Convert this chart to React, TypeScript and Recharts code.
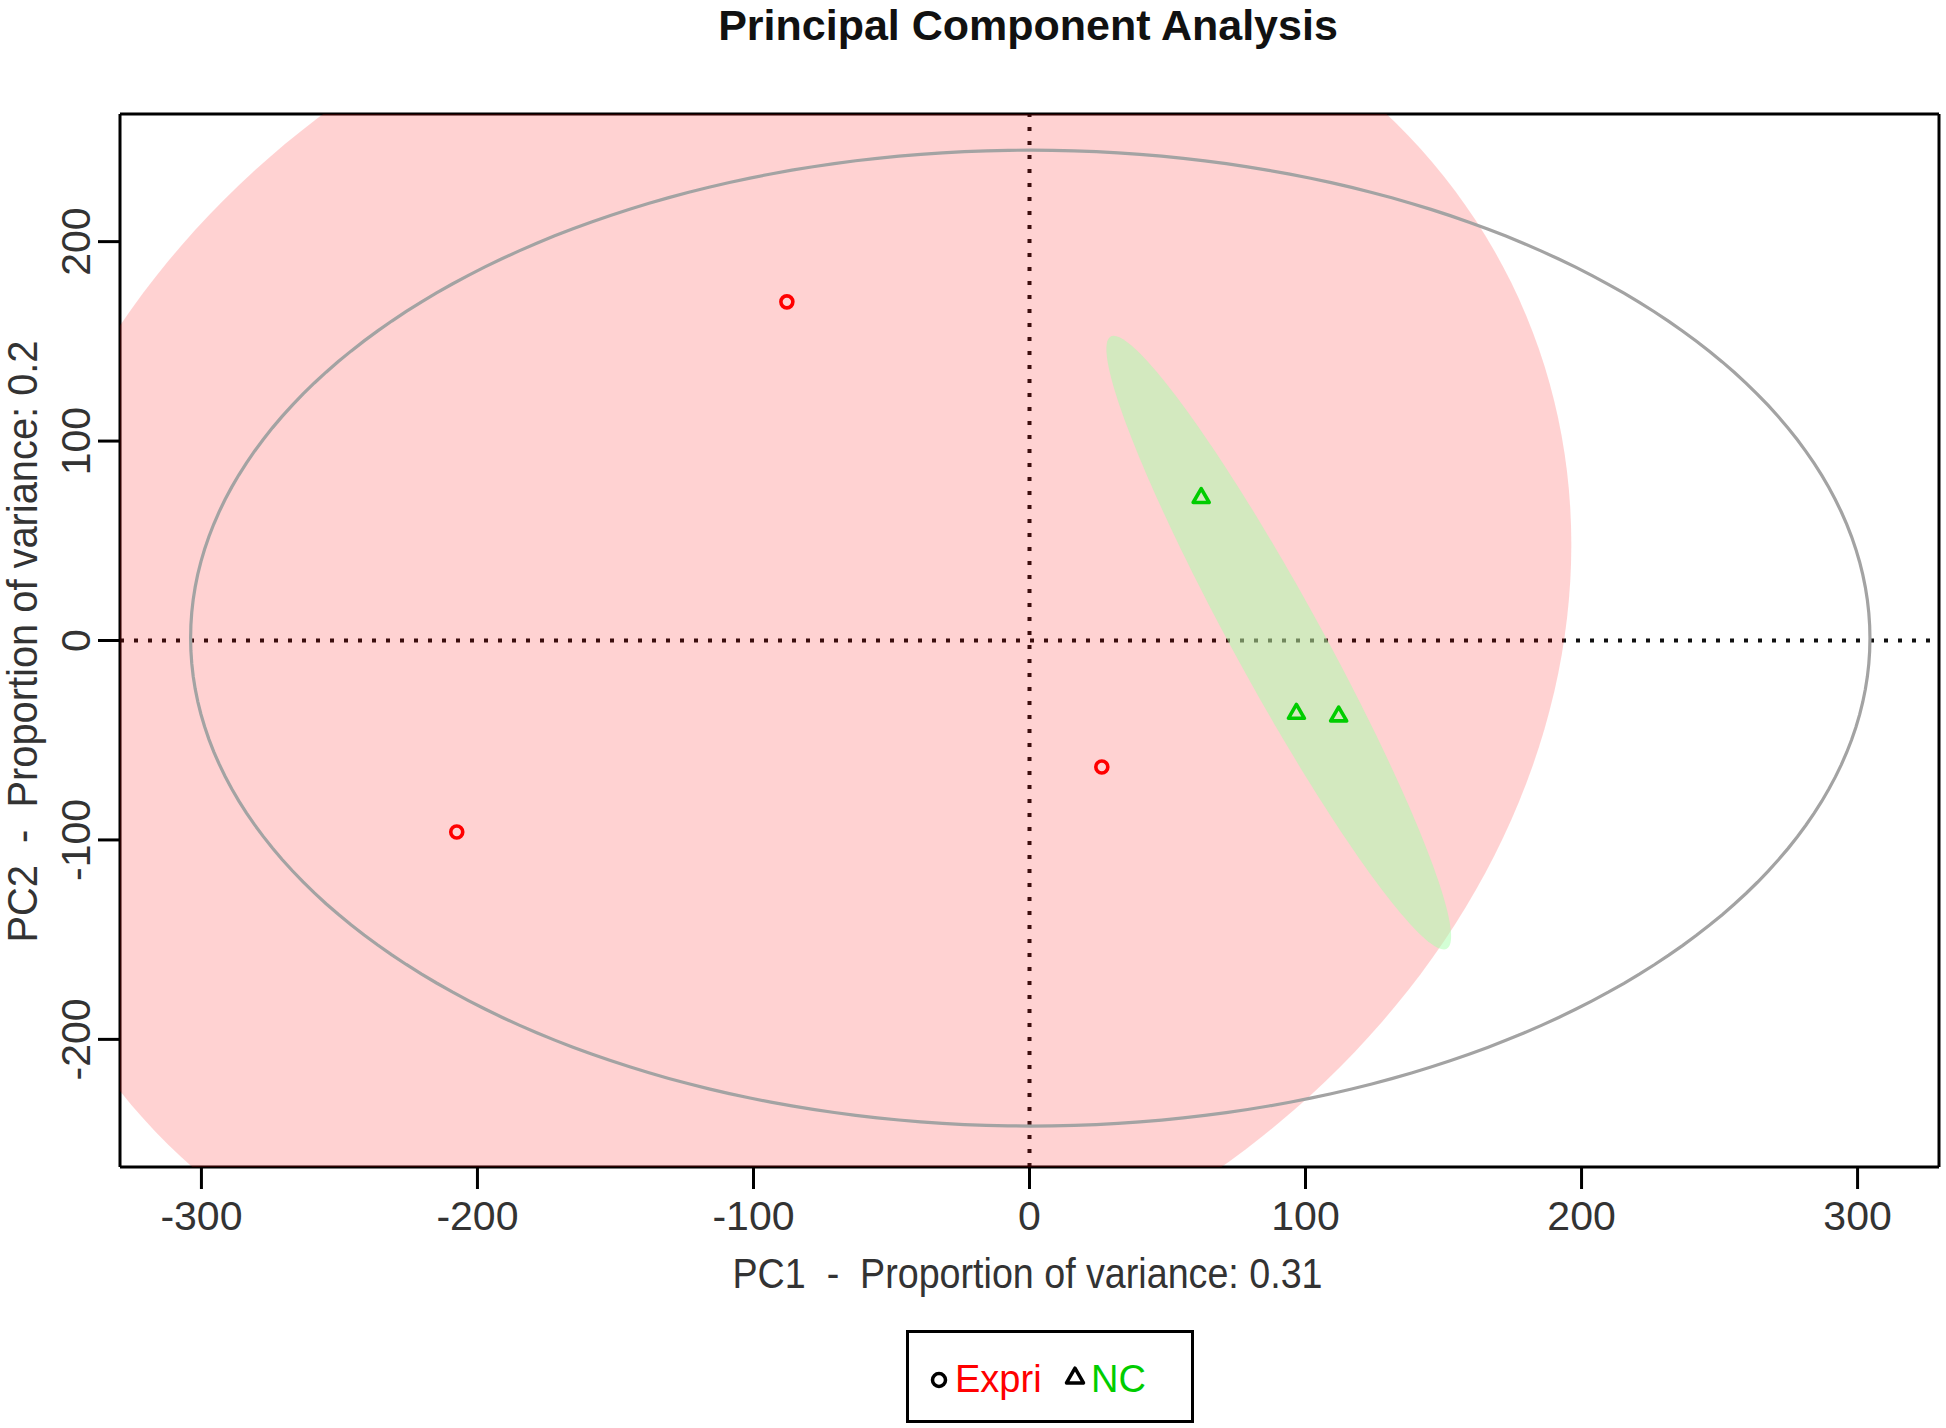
import React from 'react';
import { ScatterChart, Scatter, XAxis, YAxis, ReferenceLine, Legend } from 'recharts';

// ---- data (PCA scores) ----
const groups = ['Expri', 'NC'];
const exprPC1 = [-207.5, -87.9, 26.2];
const exprPC2 = [-96.0, 169.8, -63.4];
const ncPC1 = [62.2, 96.7, 112.0];
const ncPC2 = [71.5, -36.7, -38.0];
const xTicks = [-300, -200, -100, 0, 100, 200, 300];
const yTicks = [-200, -100, 0, 100, 200];
const varPC1 = 0.31;
const varPC2 = 0.2;
const chiSq95 = 5.991; // qchisq(0.95, df = 2)

// ---- styling / layout ----
const W = 1946;
const H = 1428;
const FONT = "'Liberation Sans', Arial, Helvetica, sans-serif";
const groupColors = ['#FF0000', '#00CD00'];
const xDomain: [number, number] = [-329.5, 329.5];
const yDomain: [number, number] = [-264, 264];

type Pt = { x: number; y: number };

const toPoints = (xs: number[], ys: number[]): Pt[] => xs.map((x, i) => ({ x, y: ys[i] }));

function dataEllipse(xs: number[], ys: number[], level: number, n = 240): Pt[] {
  const m = xs.length;
  const mx = xs.reduce((a, b) => a + b, 0) / m;
  const my = ys.reduce((a, b) => a + b, 0) / m;
  let sxx = 0, syy = 0, sxy = 0;
  for (let i = 0; i < m; i++) {
    const dx = xs[i] - mx;
    const dy = ys[i] - my;
    sxx += dx * dx;
    syy += dy * dy;
    sxy += dx * dy;
  }
  sxx /= m - 1;
  syy /= m - 1;
  sxy /= m - 1;
  const sx = Math.sqrt(sxx);
  const sy = Math.sqrt(syy);
  const r = sxy / (sx * sy);
  const k = Math.sqrt(level);
  const pts: Pt[] = [];
  for (let i = 0; i < n; i++) {
    const t = (2 * Math.PI * i) / n;
    const c = Math.cos(t);
    const s = Math.sin(t);
    pts.push({ x: mx + k * sx * c, y: my + k * (r * sy * c + Math.sqrt(1 - r * r) * sy * s) });
  }
  return pts;
}

const exprPoints = toPoints(exprPC1, exprPC2);
const ncPoints = toPoints(ncPC1, ncPC2);
const exprEllipse = dataEllipse(exprPC1, exprPC2, chiSq95);
const ncEllipse = dataEllipse(ncPC1, ncPC2, chiSq95);
const allEllipse = dataEllipse([...exprPC1, ...ncPC1], [...exprPC2, ...ncPC2], chiSq95);

const closedPath = (style: React.SVGProps<SVGPathElement>) => (props: any) => {
  const pts: { x: number; y: number }[] = props.points || [];
  const d = pts.map((p, i) => `${i ? 'L' : 'M'}${p.x},${p.y}`).join('') + 'Z';
  return <path d={d} {...style} />;
};

const NoDot = () => <g />;

const CircleMark = (props: any) => (
  <circle cx={props.cx} cy={props.cy} r={6} fill="none" stroke={groupColors[0]} strokeWidth={3.6} />
);

const triPath = (cx: number, cy: number, s: number) => {
  const h = s * 0.866;
  return `M${cx},${cy - (2 * h) / 3}L${cx + s / 2},${cy + h / 3}L${cx - s / 2},${cy + h / 3}Z`;
};

const TriMark = (props: any) => (
  <path d={triPath(props.cx, props.cy, 16)} fill="none" stroke={groupColors[1]} strokeWidth={3.6} strokeLinejoin="round" />
);

const XTick = (props: any) => (
  <text x={props.x} y={props.y + 41} textAnchor="middle" fontFamily={FONT} fontSize={41} fill="#333">
    {props.payload.value}
  </text>
);

const YTick = (props: any) => {
  const x = props.x - 8;
  const y = props.y;
  return (
    <text x={x} y={y} transform={`rotate(-90 ${x} ${y})`} textAnchor="middle" fontFamily={FONT} fontSize={41} fill="#333">
      {props.payload.value}
    </text>
  );
};

const XTitle = (props: any) => {
  const vb = props.viewBox;
  if (!vb) return null;
  return (
    <text
      x={vb.x + vb.width / 2 - 2}
      y={vb.y + 121}
      textAnchor="middle"
      fontFamily={FONT}
      fontSize={42}
      fill="#333"
      xmlSpace="preserve"
      textLength={590}
      lengthAdjust="spacingAndGlyphs"
    >
      {`PC1  -  Proportion of variance: ${varPC1}`}
    </text>
  );
};

const YTitle = (props: any) => {
  const vb = props.viewBox;
  if (!vb) return null;
  const x = vb.x + 37;
  const y = vb.y + vb.height / 2 + 1;
  return (
    <text
      x={x}
      y={y}
      transform={`rotate(-90 ${x} ${y})`}
      textAnchor="middle"
      fontFamily={FONT}
      fontSize={42}
      fill="#333"
      xmlSpace="preserve"
      textLength={602}
      lengthAdjust="spacingAndGlyphs"
    >
      {`PC2  -  Proportion of variance: ${varPC2}`}
    </text>
  );
};

const legendMarkX = [33, 169];

const LegendBox = (props: any) => {
  const payload = (props.payload || []).filter((e: any) => groups.includes(e.value));
  return (
    <svg width={288} height={93} style={{ display: 'block' }}>
      <rect x={1.5} y={1.5} width={285} height={90} fill="#fff" stroke="#000" strokeWidth={3} />
      {payload.map((e: any, i: number) => {
        const gi = groups.indexOf(e.value);
        const mx = legendMarkX[i];
        return (
          <g key={e.value}>
            {gi === 0 ? (
              <circle cx={mx} cy={50} r={6.5} fill="none" stroke="#000" strokeWidth={3.5} />
            ) : (
              <path d={triPath(mx, 48, 17)} fill="none" stroke="#000" strokeWidth={3.5} strokeLinejoin="round" />
            )}
            <text x={mx + 16} y={62} fontFamily={FONT} fontSize={38} fill={groupColors[gi]}>
              {e.value}
            </text>
          </g>
        );
      })}
    </svg>
  );
};

export default function App() {
  return (
    <div style={{ position: 'absolute', left: 0, top: 0, width: W, height: H, background: '#fff' }}>
      <svg width={W} height={60} style={{ position: 'absolute', left: 0, top: 0 }}>
        <text x={1028} y={40} textAnchor="middle" fontFamily={FONT} fontWeight="bold" fontSize={43} fill="#111">
          Principal Component Analysis
        </text>
      </svg>
      <div style={{ position: 'absolute', left: 0, top: 0 }}>
        <ScatterChart width={W} height={H} margin={{ top: 114, right: 7, bottom: 0, left: 0 }}>
          <XAxis
            type="number"
            dataKey="x"
            domain={xDomain}
            allowDataOverflow
            ticks={xTicks}
            interval={0}
            height={261}
            tickSize={22}
            tickMargin={0}
            tickLine={{ stroke: '#000', strokeWidth: 3 }}
            axisLine={{ stroke: '#000', strokeWidth: 3 }}
            tick={<XTick />}
            label={{ content: <XTitle /> }}
          />
          <YAxis
            type="number"
            dataKey="y"
            domain={yDomain}
            allowDataOverflow
            ticks={yTicks}
            interval={0}
            width={120}
            tickSize={22}
            tickMargin={0}
            tickLine={{ stroke: '#000', strokeWidth: 3 }}
            axisLine={{ stroke: '#000', strokeWidth: 3 }}
            tick={<YTick />}
            label={{ content: <YTitle /> }}
          />

          <Scatter
            name="Expri ellipse"
            data={exprEllipse}
            legendType="none"
            shape={<NoDot />}
            line={closedPath({ fill: '#FF0000', fillOpacity: 0.175, stroke: 'none' })}
            isAnimationActive={false}
          />
          <Scatter
            name="NC ellipse"
            data={ncEllipse}
            legendType="none"
            shape={<NoDot />}
            line={closedPath({ fill: 'rgb(167,255,171)', fillOpacity: 0.5, stroke: 'none' })}
            isAnimationActive={false}
          />
          <Scatter
            name="All ellipse"
            data={allEllipse}
            legendType="none"
            shape={<NoDot />}
            line={closedPath({ fill: 'none', stroke: '#A3A3A3', strokeWidth: 3.2 })}
            isAnimationActive={false}
          />
          <ReferenceLine x={0} stroke="#111" strokeWidth={4} strokeDasharray="4 10" />
          <ReferenceLine y={0} stroke="#111" strokeWidth={4} strokeDasharray="4 10" />
          {/* plot box: top and right sides */}
          <ReferenceLine y={yDomain[1]} stroke="#000" strokeWidth={3} />
          <ReferenceLine x={xDomain[1]} stroke="#000" strokeWidth={3} />
          <Scatter name={groups[0]} data={exprPoints} fill={groupColors[0]} shape={<CircleMark />} isAnimationActive={false} />
          <Scatter name={groups[1]} data={ncPoints} fill={groupColors[1]} shape={<TriMark />} isAnimationActive={false} />
          <Legend
            layout="horizontal"
            verticalAlign="middle"
            align="center"
            content={<LegendBox />}
            wrapperStyle={{ left: 906, top: 1330, width: 288, height: 93 }}
          />
        </ScatterChart>
      </div>
    </div>
  );
}
